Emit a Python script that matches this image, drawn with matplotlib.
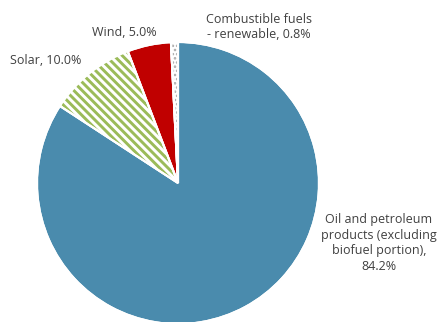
import matplotlib
matplotlib.use("Agg")
import matplotlib.pyplot as plt

plt.rcParams['font.family'] = ['Open Sans', 'DejaVu Sans']
plt.rcParams['hatch.linewidth'] = 2.1

categories = ["Oil and petroleum\nproducts (excluding\nbiofuel portion),", "Solar,", "Wind,", "Combustible fuels\n- renewable,"]
values = [84.2, 10.0, 5.0, 0.8]
colors = ["#4A8BAD", "white", "#C00000", "white"]

fig = plt.figure(figsize=(4.38, 3.22), dpi=100)
ax = fig.add_axes([0, 0, 1, 1])

cx, cy, r = 178, 322 - 183, 141
wedges, _ = ax.pie(values, colors=colors, startangle=90, counterclock=False,
                   center=(cx, cy), radius=r, frame=True,
                   wedgeprops=dict(edgecolor='white', linewidth=1.5))

wedges[1].set_hatch('\\' * 4)
wedges[1].set_edgecolor('#9BBB59')
wedges[1].set_linewidth(0)

# dotted pattern for the small wedge, with thin hatch lines
plt.rcParams['hatch.linewidth'] = 1.2
dots, _ = ax.pie(values, colors=colors, startangle=90, counterclock=False,
                 center=(cx, cy), radius=r, frame=True,
                 wedgeprops=dict(edgecolor='none', linewidth=0, fill=False))
for i, w in enumerate(dots):
    if i == 3:
        w.set_hatch('....')
        w.set_edgecolor('#A6A6A6')
        w.set_linewidth(0)
    else:
        w.set_visible(False)

# white separators over hatched wedges
outline, _ = ax.pie(values, colors=colors, startangle=90, counterclock=False,
                    center=(cx, cy), radius=r, frame=True,
                    wedgeprops=dict(edgecolor='white', linewidth=1.5, fill=False))
ax.set_xlim(0, 438)
ax.set_ylim(0, 322)
ax.set_aspect('equal')
ax.axis('off')

fs = 9
tc = '#404040'
label_pos = [(379, 322 - 243), (46, 322 - 60), (124, 322 - 32), (259, 322 - 27)]
for cat, v, (x, y) in zip(categories, values, label_pos):
    if cat.startswith('Oil'):
        txt = f"{cat}\n{v:.1f}%"
    else:
        txt = f"{cat} {v:.1f}%"
    ax.text(x, y, txt, ha='center', va='center', fontsize=fs, color=tc, linespacing=1.25)

fig.savefig('out.png', dpi=100)
